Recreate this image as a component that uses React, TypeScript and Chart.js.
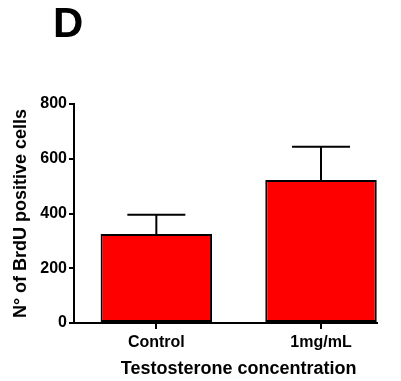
import React, { useEffect, useRef } from "react";
import { Chart, registerables } from "chart.js";

Chart.register(...registerables);

const panelLabel = "D";
const categories = ["Control", "1mg/mL"];
const means = [325, 522];
const sems = [70, 122];
const yTicks = [0, 200, 400, 600, 800];
const yTitle = "N° of BrdU positive cells";
const xTitle = "Testosterone concentration";

const FONT = "'Liberation Sans', Arial, sans-serif";

const errorBars = {
  id: "errorBars",
  afterDatasetsDraw(chart: any) {
    const meta = chart.getDatasetMeta(0);
    const y = chart.scales.y;
    const ctx = chart.ctx;
    ctx.save();
    ctx.strokeStyle = "#000";
    ctx.lineWidth = 2;
    meta.data.forEach((el: any, i: number) => {
      const top = y.getPixelForValue(means[i] + sems[i]);
      const half = el.width * 0.26;
      ctx.beginPath();
      ctx.moveTo(el.x, el.y);
      ctx.lineTo(el.x, top);
      ctx.moveTo(el.x - half, top);
      ctx.lineTo(el.x + half, top);
      ctx.stroke();
    });
    ctx.restore();
  },
};

const xAxisTitle = {
  id: "xAxisTitle",
  afterDraw(chart: any) {
    const xs = chart.scales.x;
    const ctx = chart.ctx;
    const cx = xs.getPixelForValue((categories.length - 1) / 2);
    ctx.save();
    ctx.fillStyle = "#000";
    ctx.font = `bold 18px ${FONT}`;
    ctx.textAlign = "center";
    ctx.textBaseline = "alphabetic";
    ctx.fillText(xTitle, cx, xs.bottom - 7);
    ctx.restore();
  },
};

export default function App() {
  const ref = useRef<HTMLCanvasElement>(null);
  useEffect(() => {
    const chart = new Chart(ref.current!, {
      type: "bar",
      data: {
        datasets: [
          {
            data: means.map((v, i) => ({ x: i, y: v })),
            backgroundColor: "#ff0000",
            borderColor: "#000",
            borderWidth: 2,
            borderSkipped: false,
            categoryPercentage: 1,
            barPercentage: 0.677,
          },
        ],
      },
      options: {
        responsive: false,
        animation: false,
        layout: { padding: { left: 0, right: 24, top: 104, bottom: 0 } },
        plugins: { legend: { display: false }, tooltip: { enabled: false }, title: { display: false } },
        scales: {
          x: {
            type: "linear",
            offset: false,
            min: -0.5,
            max: 1.34,
            afterBuildTicks: (s: any) => {
              s.ticks = categories.map((_, i) => ({ value: i }));
            },
            afterFit: (s: any) => {
              s.height = 58;
            },
            ticks: {
              callback: (v: any) => categories[v],
              color: "#000",
              font: { family: FONT, size: 16, weight: "bold" },
              padding: 4,
              autoSkip: false,
              maxRotation: 0,
            },
            grid: { display: true, offset: false, drawOnChartArea: false, drawTicks: true, tickLength: 6, color: "#000", tickColor: "#000", lineWidth: 2 },
            border: { display: true, color: "#000", width: 2 },
            title: { display: false },
          },
          y: {
            min: 0,
            max: 800,
            afterBuildTicks: (s: any) => {
              s.ticks = yTicks.map((v) => ({ value: v }));
            },
            afterFit: (s: any) => {
              s.width = 74;
            },
            ticks: {
              color: "#000",
              font: { family: FONT, size: 16, weight: "bold" },
              padding: 2,
            },
            grid: { display: true, drawOnChartArea: false, drawTicks: true, tickLength: 5, color: "#000", lineWidth: 2 },
            border: { display: true, color: "#000", width: 2 },
            title: {
              display: true,
              text: yTitle,
              color: "#000",
              font: { family: FONT, size: 18, weight: "bold" },
              padding: { top: 10, bottom: 0 },
            },
          },
        },
      },
      plugins: [errorBars, xAxisTitle],
    });
    return () => chart.destroy();
  }, []);

  return (
    <div style={{ position: "fixed", left: 0, top: 0, width: 401, height: 381, background: "#fff" }}>
      <canvas ref={ref} width={401} height={381} style={{ display: "block" }} />
      <div
        style={{
          position: "absolute",
          left: 53,
          top: 0,
          fontFamily: FONT,
          fontWeight: "bold",
          fontSize: 42,
          lineHeight: "46px",
          color: "#000",
        }}
      >
        {panelLabel}
      </div>
    </div>
  );
}
